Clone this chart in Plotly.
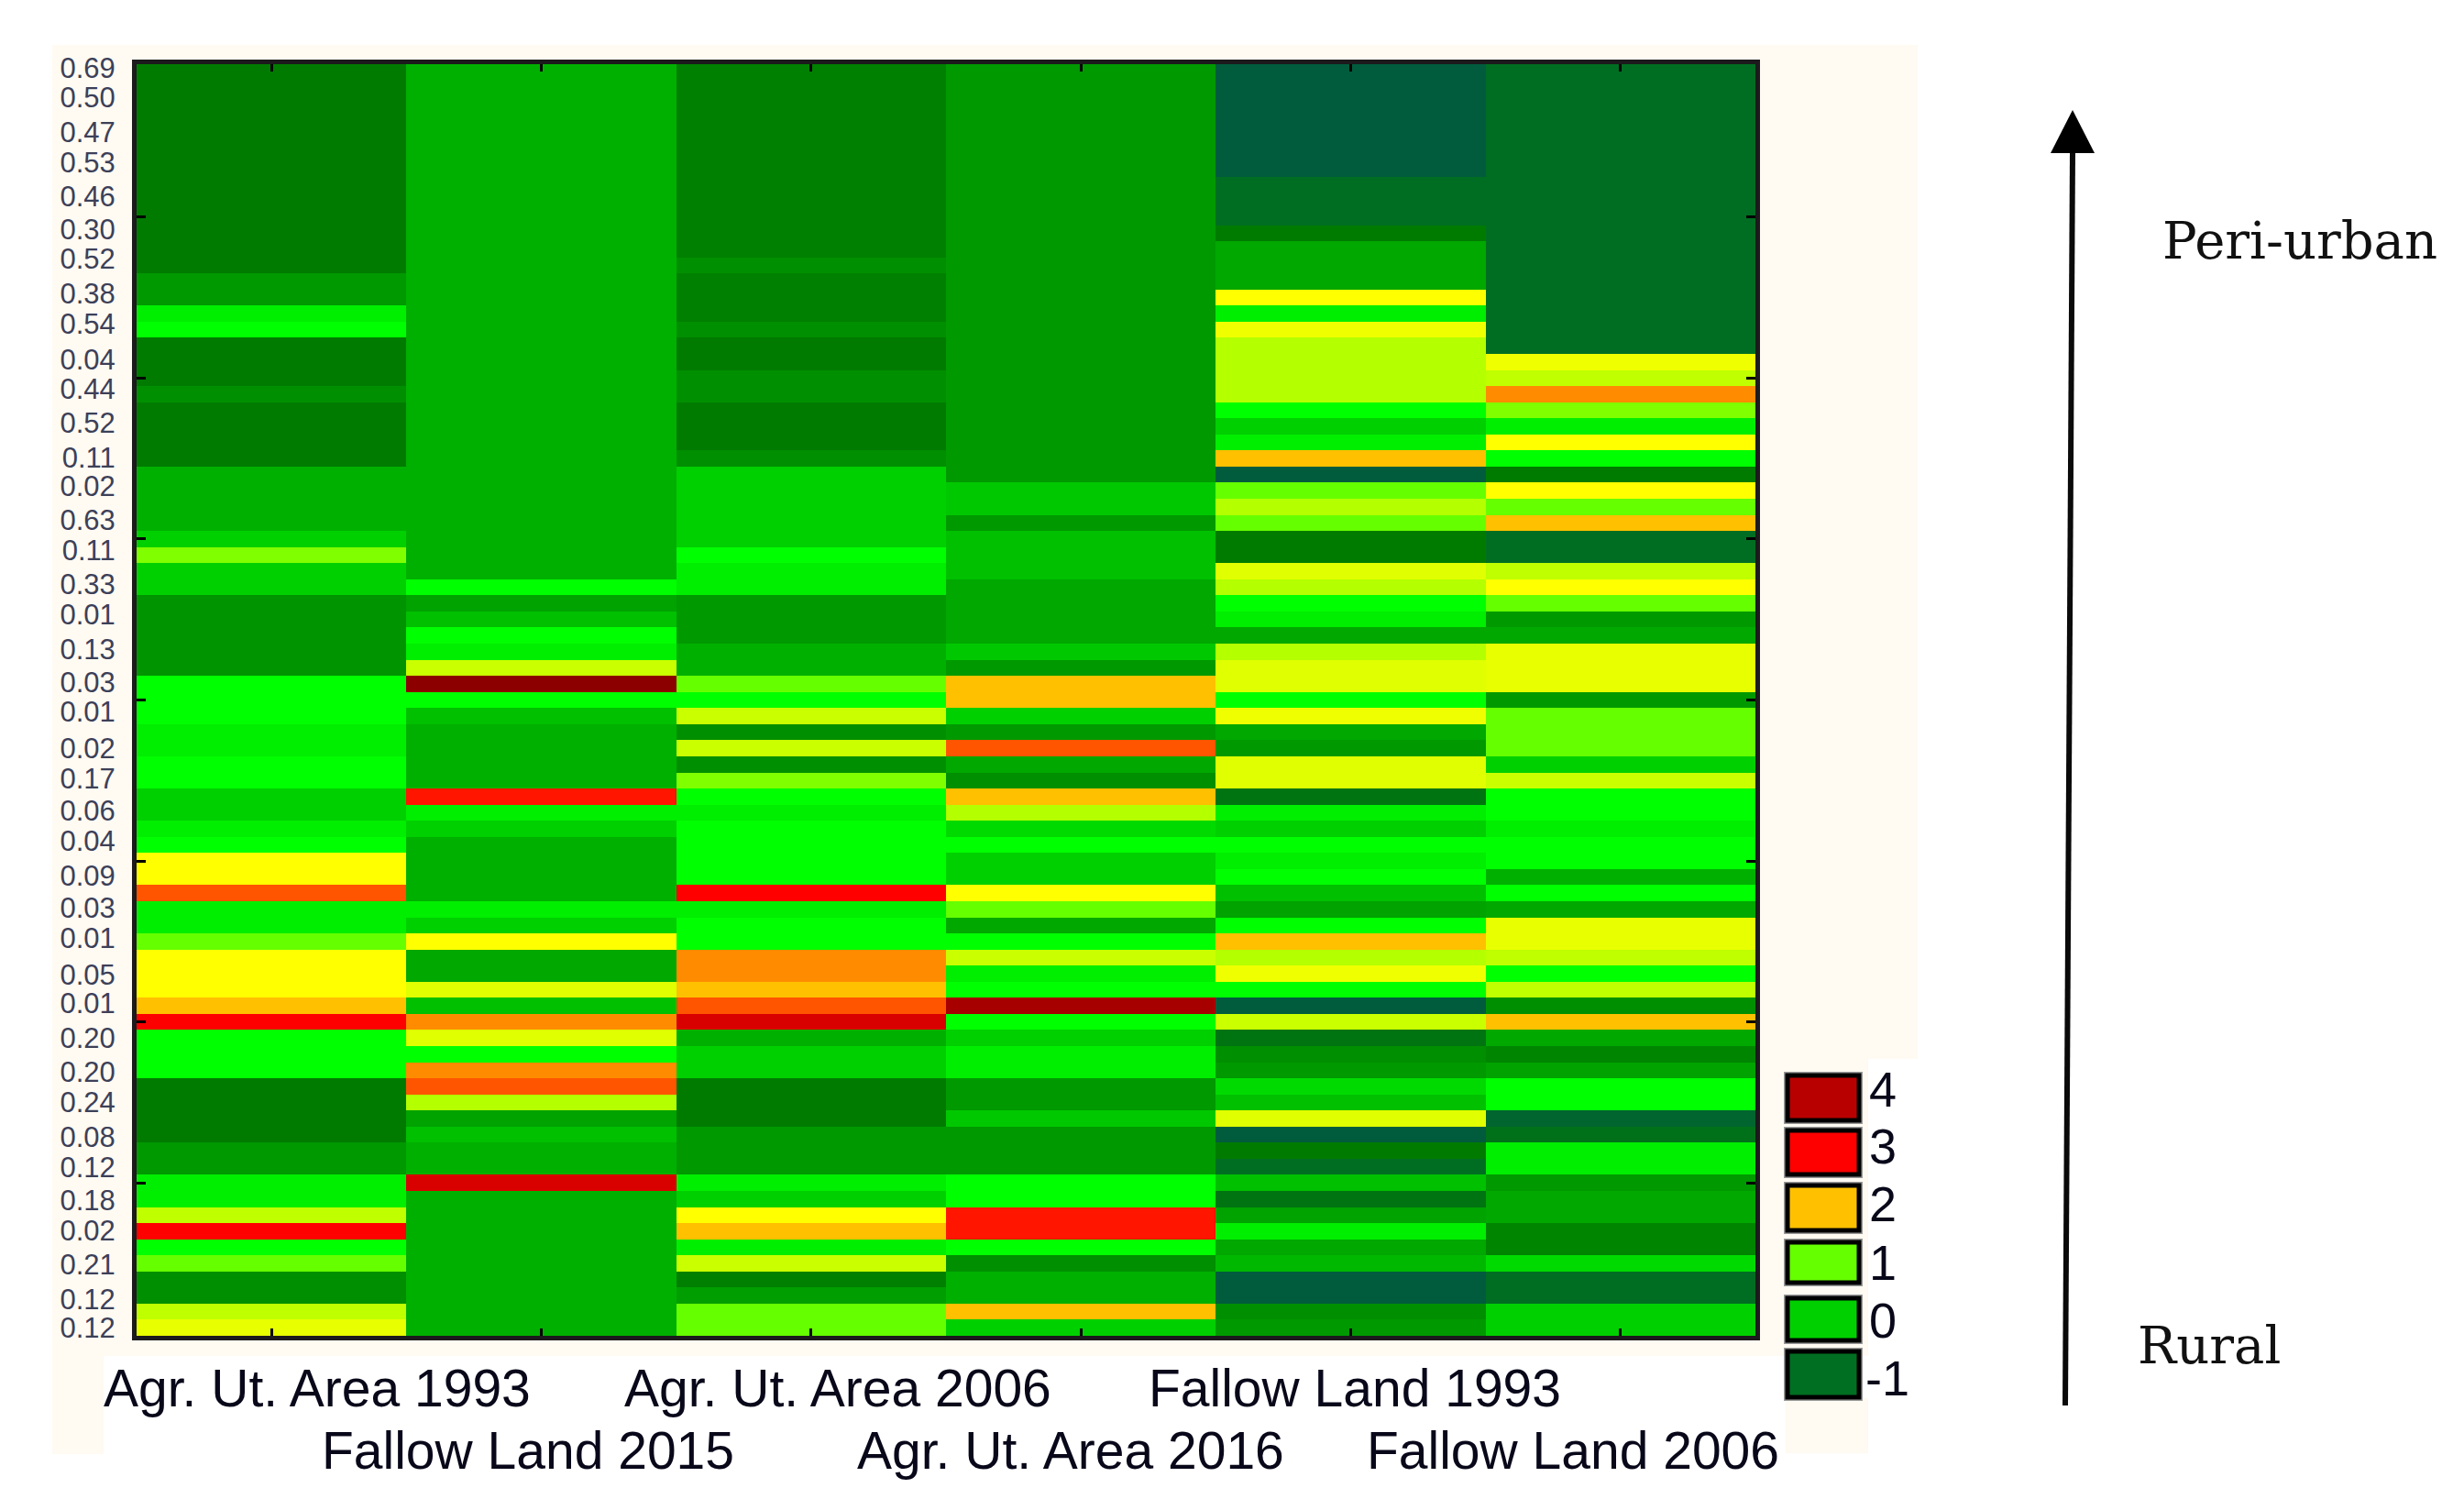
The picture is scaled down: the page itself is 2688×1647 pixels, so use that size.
import plotly.graph_objects as go

W, H = 2688, 1647

categories = ["Agr. Ut. Area 1993", "Fallow Land 2015", "Agr. Ut. Area 2006",
              "Agr. Ut. Area 2016", "Fallow Land 1993", "Fallow Land 2006"]

row_labels = ["0.69","0.50","0.47","0.53","0.46","0.30","0.52","0.38","0.54","0.04",
              "0.44","0.52","0.11","0.02","0.63","0.11","0.33","0.01","0.13","0.03",
              "0.01","0.02","0.17","0.06","0.04","0.09","0.03","0.01","0.05","0.01",
              "0.20","0.20","0.24","0.08","0.12","0.18","0.02","0.21","0.12","0.12"]
row_label_px = [74,106,144,177,214,250,282,320,353,392,424,461,499,530,567,600,637,670,708,744,
                776,816,849,884,917,955,990,1023,1063,1094,1132,1169,1202,1240,1273,1309,1342,1379,1417,1448]

agr_1993 = ([-0.7]*13+[-0.4]*2+[0.3]+[0.5]+[-0.7]*3+[-0.5]+[-0.7]*4+[-0.2]*4+[0.0]+[1.1]+[0.0]*2+[-0.45]*5
            +[0.5]*3+[0.3]*2+[0.5]*2+[0.0]*2+[0.3]+[0.5]+[1.7]*2+[2.6]+[0.3]*2+[1.0]+[1.7]*3+[2.0]+[3.0]
            +[0.5]*3+[-0.7]*4+[-0.4]*2+[0.3]*2+[1.35]+[3.0]+[0.5]+[1.0]+[-0.5]*2+[1.35]+[1.55])
fallow_2015 = ([-0.2]*32+[0.5]+[-0.3]+[-0.1]+[0.5]+[0.3]+[1.4]+[4.0]+[0.5]+[-0.1]+[-0.2]*4+[2.9]+[0.3]+[0.0]
               +[-0.2]*4+[0.3]+[0.0]+[1.7]+[-0.25]*2+[1.5]+[-0.1]+[2.3]+[1.5]+[0.5]+[2.3]+[2.6]+[1.3]+[-0.3]
               +[-0.1]+[-0.2]*2+[3.4]+[-0.2]*9)
agr_2006 = ([-0.65]*12+[-0.5]+[-0.65]*3+[-0.5]+[-0.7]*2+[-0.5]*2+[-0.7]*3+[-0.5]+[0.0]*5+[0.5]+[0.3]*2+[-0.4]*3
            +[-0.2]*2+[1.0]+[0.5]+[1.4]+[-0.5]+[1.4]+[-0.5]+[1.1]+[0.5]+[0.3]+[0.5]*4+[3.0]+[0.3]+[0.5]*2
            +[2.3]*2+[2.0]+[2.6]+[3.4]+[-0.2]+[0.0]*2+[-0.7]*3+[-0.4]*3+[0.3]+[0.0]+[1.7]+[2.0]+[0.3]+[1.4]
            +[-0.65]+[-0.35]+[1.0]*2)
agr_2016 = ([-0.4]*26+[-0.05]*2+[-0.4]+[-0.1]*3+[-0.25]*4+[-0.05]+[-0.4]+[2.0]*2+[0.0]+[-0.4]+[2.6]+[-0.25]
            +[-0.5]+[2.0]+[1.3]+[0.1]+[0.5]+[0.0]*2+[1.7]+[1.0]+[-0.25]+[0.5]+[1.4]+[0.3]+[0.5]+[3.8]+[0.5]
            +[0.0]+[0.3]*2+[-0.4]*2+[-0.05]+[-0.4]*3+[0.5]*2+[2.9]*2+[0.5]+[-0.5]+[-0.2]*2+[2.0]+[0.0])
fallow_1993 = ([-1.0]*7+[-0.9]*3+[-0.7]+[-0.25]*3+[1.7]+[0.3]+[1.6]+[1.3]*4+[0.5]+[0.0]+[0.3]+[2.0]+[-1.0]+[1.0]
               +[1.3]+[1.0]+[-0.7]*2+[1.5]+[1.3]+[0.5]+[0.3]+[-0.25]+[1.3]+[1.5]*2+[0.5]+[1.6]+[-0.25]+[-0.4]
               +[1.5]*2+[-0.8]+[0.3]+[0.0]+[0.5]+[0.3]+[0.5]+[-0.1]+[-0.3]+[0.5]+[2.0]+[1.3]+[1.6]+[0.5]+[-1.0]
               +[1.4]+[-0.8]+[-0.5]+[-0.4]+[0.1]+[-0.1]+[1.5]+[-1.0]+[-0.7]+[-0.9]+[-0.1]+[-0.8]+[-0.3]+[0.3]
               +[-0.25]+[-0.15]+[-1.0]*2+[-0.5]+[-0.4])
fallow_2006 = ([-0.9]*18+[1.6]+[1.35]+[2.3]+[1.1]+[0.3]+[1.7]+[0.5]+[-0.7]+[1.7]+[1.0]+[2.0]+[-0.9]*2+[1.35]
               +[1.7]+[1.0]+[-0.4]+[-0.25]+[1.55]*3+[-0.4]+[1.0]*3+[0.0]+[1.4]+[0.5]*2+[0.3]+[0.5]*2+[-0.2]
               +[0.5]+[-0.25]+[1.55]*2+[1.35]+[0.5]+[1.35]+[-0.5]+[2.0]+[-0.25]+[-0.6]+[-0.3]+[0.5]*2+[-0.95]
               +[-0.85]+[0.3]*2+[-0.4]+[-0.25]*2+[-0.6]*2+[0.1]+[-0.9]*2+[0.0]*2)

columns = [agr_1993, fallow_2015, agr_2006, agr_2016, fallow_1993, fallow_2006]
for c in columns:
    assert len(c) == 79, len(c)
z = [list(r) for r in zip(*columns)]

color_stops = [(-1.0,"#005c3c"),(-0.9,"#006e22"),(-0.7,"#007b00"),(-0.5,"#008f00"),(-0.25,"#00a800"),
               (0.0,"#00d000"),(0.3,"#00ee00"),(0.5,"#00ff00"),(1.0,"#66ff00"),(1.3,"#b4ff00"),
               (1.5,"#e0ff00"),(1.7,"#ffff00"),(2.0,"#ffc000"),(2.3,"#ff8c00"),(2.6,"#ff5500"),
               (3.0,"#ff0000"),(3.5,"#d00000"),(4.0,"#8c0000")]
colorscale = [[(v+1.0)/5.0, c] for v, c in color_stops]

legend_labels = ["4","3","2","1","0","-1"]
legend_colors = ["#b80000","#ff0000","#ffc000","#66ff00","#00d000","#006f22"]
legend_boxes = [(1172,1223),(1232,1282),(1292,1343),(1354,1400),(1415,1463),(1473,1525)]
legend_base = [1207,1269,1332,1396,1459,1522]

PL, PR, PT, PB = 149, 1915, 70, 1457
rowh = (PB-PT)/79

def fx(x): return x/W
def fy(y): return 1-y/H

def rect(x0, y0, x1, y1, fill, line=None, lw=0, layer="below"):
    return dict(type="rect", xref="paper", yref="paper", x0=fx(x0), x1=fx(x1), y0=fy(y1), y1=fy(y0),
                fillcolor=fill, line=dict(color=line or fill, width=lw), layer=layer)

cream = "#fffaf2"
shapes = [rect(57,49,2092,1155,cream), rect(57,1155,2038,1479,cream),
          rect(57,1479,113,1586,cream), rect(1948,1525,2038,1585,cream)]
for (y0,y1), col in zip(legend_boxes, legend_colors):
    shapes.append(rect(1946,y0-3,2032,y1+3,"#9a9a9a"))
    shapes.append(rect(1950,y0+1,2028,y1-1,col,"#000000",5,"above"))

# arrow
shapes.append(dict(type="line", xref="paper", yref="paper", x0=fx(2253), y0=fy(1533), x1=fx(2261), y1=fy(165),
                   line=dict(color="#0a0a0a", width=6)))
shapes.append(dict(type="path", xref="paper", yref="paper", fillcolor="#000000", line=dict(color="#000000", width=0),
                   path=f"M {fx(2261)} {fy(120)} L {fx(2285)} {fy(167)} L {fx(2237)} {fy(167)} Z"))

ann = []
def text(x, base, s, size, family="Liberation Sans", color="#08081a", anchor="left"):
    ann.append(dict(xref="paper", yref="paper", x=fx(x), y=fy(base-0.35*size), text=s, showarrow=False,
                    xanchor=anchor, yanchor="middle", borderpad=0, font=dict(family=family, size=size, color=color)))

x_label_pos = [(112,1534),(350,1602),(680,1534),(934,1602),(1252,1534),(1490,1602)]
for (x,b), s in zip(x_label_pos, categories):
    text(x, b, s, 57)
for lab, b in zip(legend_labels, legend_base):
    text(2084 if lab=="-1" else 2070, b, lab, 54, anchor="right")
text(2358, 282, "Peri-urban", 56, family="DejaVu Serif", color="#111111")
text(2331, 1487, "Rural", 56, family="DejaVu Serif", color="#111111")

fig = go.Figure(go.Heatmap(z=z, x=categories, y=list(range(79)), colorscale=colorscale, zmin=-1, zmax=4,
                           showscale=False, hoverongaps=False))
fig.update_layout(width=W, height=H, margin=dict(l=0,r=0,t=0,b=0,autoexpand=False), paper_bgcolor="#ffffff",
                  plot_bgcolor="rgba(0,0,0,0)", shapes=shapes, annotations=ann, showlegend=False,
                  xaxis=dict(domain=[fx(PL),fx(PR)], type="category", showticklabels=False, ticks="inside",
                             ticklen=8, tickwidth=3, tickcolor="#000000", showline=True, linewidth=5,
                             linecolor="#1c1a1c", mirror="ticks", showgrid=False, zeroline=False),
                  yaxis=dict(domain=[fy(PB),fy(PT)], range=[78.5,-0.5], tickmode="array",
                             tickvals=[(p-PT)/rowh-0.5 for p in row_label_px], ticktext=row_labels,
                             ticks="", tickfont=dict(family="Liberation Sans", size=31, color="#3c4058"),
                             ticklabelstandoff=12, showline=True, linewidth=5, linecolor="#1c1a1c",
                             mirror="ticks", showgrid=False, zeroline=False,
                             minor=dict(tickmode="array", tickvals=[9,19,29,39,49,59,69], ticks="inside",
                                        ticklen=10, tickwidth=3, tickcolor="#000000", showgrid=False)))
fig.write_html("out.html", config={"displayModeBar": False},
               post_script="document.body.style.margin='0';document.documentElement.style.overflow='hidden';")
